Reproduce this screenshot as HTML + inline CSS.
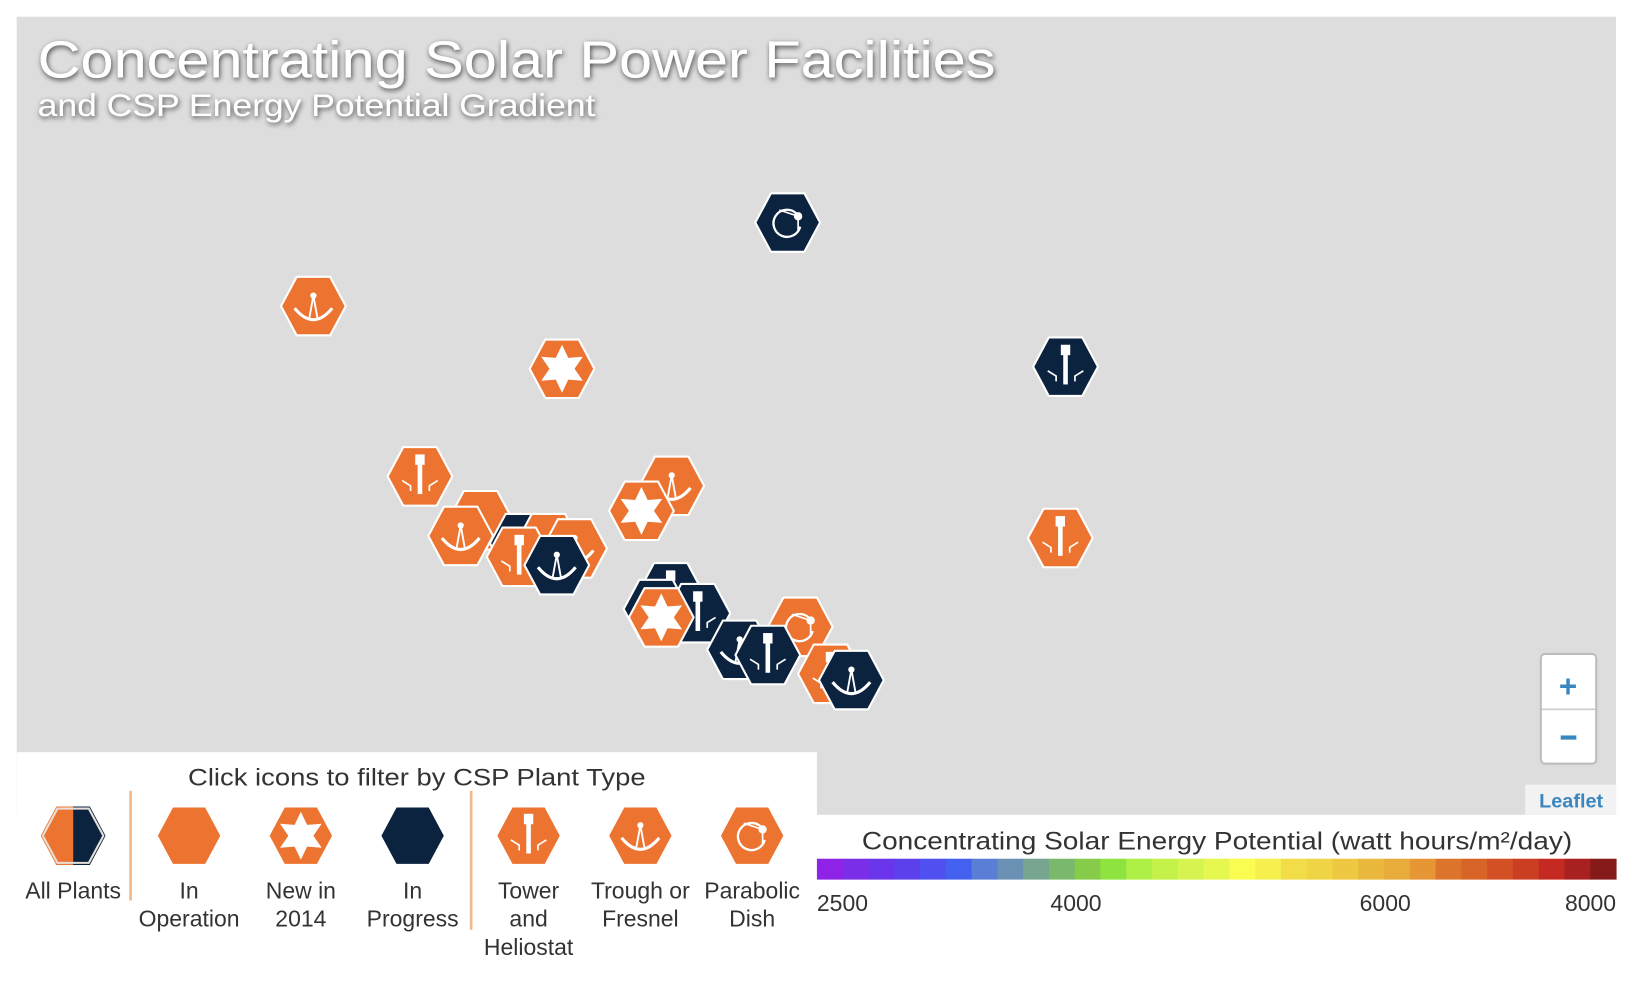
<!DOCTYPE html>
<html><head><meta charset="utf-8">
<style>
html,body{margin:0;padding:0;background:#fff;width:1638px;height:982px;overflow:hidden;}
svg{display:block;font-family:"Liberation Sans",sans-serif;}
</style></head>
<body>
<svg id="chart" width="1638" height="982" viewBox="0 0 1568 940" xmlns="http://www.w3.org/2000/svg">
  <defs>
    <filter id="ts" x="-5%" y="-30%" width="110%" height="160%">
      <feGaussianBlur in="SourceAlpha" stdDeviation="2.5"/>
      <feOffset dx="1" dy="2"/>
      <feComponentTransfer><feFuncA type="linear" slope="0.7"/></feComponentTransfer>
      <feMerge><feMergeNode/><feMergeNode in="SourceGraphic"/></feMerge>
    </filter>
  </defs>
  <rect x="16" y="16" width="1531" height="764" fill="#dddddd"/>
  <rect x="16" y="720" width="766" height="220" fill="#ffffff"/>
  <rect x="782" y="780" width="786" height="160" fill="#ffffff"/>
  <g filter="url(#ts)">
    <text x="36" y="74" font-size="50" fill="#fff" textLength="917" lengthAdjust="spacingAndGlyphs">Concentrating Solar Power Facilities</text>
    <text x="36" y="111" font-size="30" fill="#fff" textLength="534" lengthAdjust="spacingAndGlyphs">and CSP Energy Potential Gradient</text>
  </g>
  <g id="markers"></g>

  <g>
    <rect x="1475" y="626" width="53" height="105" rx="4" fill="#fff" stroke="#bdbdbd" stroke-width="2"/>
    <line x1="1476" y1="679" x2="1527" y2="679" stroke="#ccc" stroke-width="1.5"/>
    <text x="1501" y="667" font-size="30" fill="#3a87bf" text-anchor="middle" font-weight="bold">+</text>
    <rect x="1494" y="704" width="15" height="4" fill="#3a87bf"/>
  </g>
  <rect x="1460" y="751" width="87" height="29" fill="#f2f2f2"/>
  <text x="1504" y="773" font-size="19" font-weight="bold" fill="#3a87bf" text-anchor="middle">Leaflet</text>

  <text x="399" y="752" font-size="23" fill="#333" text-anchor="middle" textLength="438" lengthAdjust="spacingAndGlyphs">Click icons to filter by CSP Plant Type</text>
  <line x1="125" y1="757" x2="125" y2="862" stroke="#f4b78a" stroke-width="2.5"/>
  <line x1="451" y1="757" x2="451" y2="890" stroke="#f4b78a" stroke-width="2.5"/>
  <g id="legend"></g>

  <text x="1165" y="813" font-size="24" fill="#333" text-anchor="middle" textLength="680" lengthAdjust="spacingAndGlyphs">Concentrating Solar Energy Potential (watt hours/m²/day)</text>
  <g id="colorbar"></g>
  <g id="cticks"></g>
</svg>
<script>
// Marker data (map coordinates in display space), status and plant type
const markerX = [754,300,538,1020,402,643,1015,460,441,500,525,550,614,497,533,642,628,668,633,766,708,735,795,815];
const markerY = [213,293,353,351,456,465,515,498,513,520,520,525,489,533,541,567,583,587,591,600,622,627,645,651];
const markerStatus = ['prog','op','new','prog','op','op','op','op','op','prog','op','op','new','op','prog','prog','prog','prog','new','op','prog','prog','op','prog'];
const markerType = ['dish','trough','star','tower','tower','trough','tower','none','trough','none','none','trough','star','tower','trough','tower','none','tower','star','dish','trough','tower','tower','trough'];

// Colorbar data
const cbColors = ['#8e22e6','#7a2ee8','#6a35ea','#5c40ec','#5050f0','#4460ee','#5a7dd6','#6a90b4','#78a590','#7ab86c','#86cc4a','#8ee33e','#aef046','#c4f24a','#d6f450','#e6f850','#fbfc52','#f5f04e','#f2dc48','#efd446','#edc840','#eab83c','#e8ac3a','#e69634','#dc742c','#d86428','#d25024','#cc3e22','#c42a22','#a82020','#861a1a'];
const cbTicks = [2500,4000,6000,8000];
const cbTickPos = [782,1030,1326,1547];

const NS='http://www.w3.org/2000/svg';
function el(tag, attrs, parent){const e=document.createElementNS(NS,tag);for(const k in attrs)e.setAttribute(k,attrs[k]);parent.appendChild(e);return e;}
const COL={op:'#ec7430',new:'#ec7430',prog:'#0c2340'};
const hexPts='-31,0 -16,-28 16,-28 31,0 16,28 -16,28';

function glyph(g,type){
  const w='#fff';
  if(type==='tower'){
    el('rect',{x:-2.2,y:-15,width:4.4,height:32,fill:w},g);
    el('rect',{x:-4.5,y:-21,width:9,height:10,fill:w},g);
    el('path',{d:'M-17,4 L-9,9 L-9,14 M9,14 L9,9 L17,4',stroke:w,'stroke-width':1.6,fill:'none'},g);
  } else if(type==='trough'){
    el('path',{d:'M-18,2 Q0,24 18,2',stroke:w,'stroke-width':3,fill:'none'},g);
    el('path',{d:'M0,-10 L-4,12 M0,-10 L4,12',stroke:w,'stroke-width':1.8,fill:'none'},g);
    el('circle',{cx:0,cy:-10,r:3,fill:w},g);
  } else if(type==='dish'){
    el('path',{d:'M8,-9 A13,13 0 1 0 12,4',stroke:w,'stroke-width':2.2,fill:'none'},g);
    el('path',{d:'M-8,-12 L10,-6 L10,8',stroke:w,'stroke-width':1.6,fill:'none'},g);
    el('circle',{cx:10,cy:-6,r:4,fill:w},g);
  } else if(type==='star'){
    let p=[];for(let i=0;i<12;i++){const r=i%2?12:23;const a=-Math.PI/2+i*Math.PI/6;p.push((r*Math.cos(a)).toFixed(1)+','+(r*Math.sin(a)).toFixed(1));}
    el('polygon',{points:p.join(' '),fill:w},g);
  }
}
function hexIcon(parent,x,y,fill,type,name,interact){
  const g=el('g',{transform:`translate(${x},${y})`},parent);
  
  
  el('polygon',{points:hexPts,fill:fill,stroke:'#fff','stroke-width':2,'stroke-linejoin':'round'},g);
  glyph(g,type);
  return g;
}

const mg=document.getElementById('markers');
for(let i=0;i<markerX.length;i++){
  hexIcon(mg,markerX[i],markerY[i],COL[markerStatus[i]],markerType[i],'plant-marker-'+(i+1),'true');
}

// Legend
const lg=document.getElementById('legend');
const legX=[70,181,288,395,506,613,720];
const legLabels=[['All Plants'],['In','Operation'],['New in','2014'],['In','Progress'],['Tower','and','Heliostat'],['Trough or','Fresnel'],['Parabolic','Dish']];
const legNames=['all-plants','in-operation','new-in-2014','in-progress','tower-and-heliostat','trough-or-fresnel','parabolic-dish'];
{
  const g=el('g',{transform:`translate(${legX[0]},800)`},lg);
  
  
  el('polygon',{points:'-31,0 -16,-28 0,-28 0,28 -16,28',fill:'#ec7430'},g);
  el('polygon',{points:'0,-28 16,-28 31,0 16,28 0,28',fill:'#0c2340'},g);
  el('polygon',{points:'-29,0 -15,-26 15,-26 29,0 15,26 -15,26',fill:'none',stroke:'#e8e0d8','stroke-width':2},g);
}
hexIcon(lg,legX[1],800,'#ec7430','none','legend-in-operation-icon','true');
hexIcon(lg,legX[2],800,'#ec7430','star','legend-new-in-2014-icon','true');
hexIcon(lg,legX[3],800,'#0c2340','none','legend-in-progress-icon','true');
hexIcon(lg,legX[4],800,'#ec7430','tower','legend-tower-icon','true');
hexIcon(lg,legX[5],800,'#ec7430','trough','legend-trough-icon','true');
hexIcon(lg,legX[6],800,'#ec7430','dish','legend-dish-icon','true');
for(let i=0;i<legLabels.length;i++){
  const t=el('text',{x:legX[i],y:860,'font-size':22,fill:'#333','text-anchor':'middle'},lg);
  
  
  legLabels[i].forEach((ln,j)=>{const s=el('tspan',{x:legX[i],dy:j?27:0},t);s.textContent=ln;});
}

// Colorbar
const cb=document.getElementById('colorbar');
const cbX0=782,cbX1=1547,cbW=(cbX1-cbX0)/cbColors.length;
cbColors.forEach((c,i)=>{
  const r=el('rect',{x:cbX0+i*cbW,y:822,width:cbW+0.5,height:20,fill:c},cb);
  
  
});
const ct=document.getElementById('cticks');
cbTicks.forEach((v,i)=>{
  const anchor=i===0?'start':(i===cbTicks.length-1?'end':'middle');
  const t=el('text',{x:cbTickPos[i],y:872,'font-size':22,fill:'#333','text-anchor':anchor},ct);
  
  
  t.textContent=v;
});
</script>
</body></html>
